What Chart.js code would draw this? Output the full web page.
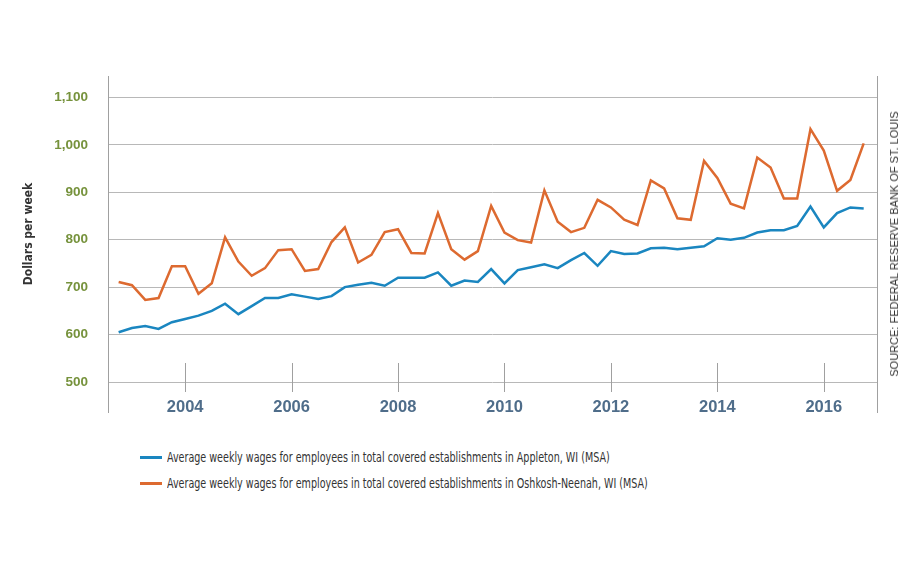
<!DOCTYPE html>
<html>
<head>
<meta charset="utf-8">
<script src="https://cdn.jsdelivr.net/npm/chart.js@4.4.1/dist/chart.umd.min.js"></script>
<style>
  body { margin: 0; background: #fff; }
  #wrap { position: relative; width: 922px; height: 576px; overflow: hidden; }
  #myCanvasWages { position: absolute; left: 0; top: 0; }
  .legenda { position: absolute; left: 140px; top: 0; font-family: "DejaVu Sans Condensed", "Liberation Sans Narrow", sans-serif; font-size: 14px; color: #333; }
  .legenda .item { position: absolute; left: 0; white-space: nowrap; height: 18px; line-height: 18px; }
  .legenda .amostra { display: inline-block; width: 22px; height: 3px; vertical-align: middle; margin-right: 5px; position: relative; top: -1px; }
  .legenda .texto { display: inline-block; transform: scaleX(0.76); transform-origin: 0 50%; }
  #fonte { position: absolute; left: 894px; top: 244px; transform: translate(-50%, -50%) rotate(-90deg); white-space: nowrap;
           font-family: "Liberation Sans", Arial, sans-serif; font-size: 11px; letter-spacing: 0px; color: #333; }
</style>
</head>
<body>
<div id="wrap">
  <canvas id="myCanvasWages" width="922" height="440"></canvas>
  <div class="legenda">
    <div class="item" style="top:448px"><span class="amostra" style="background:#1a86c0"></span><span class="texto">Average weekly wages for employees in total covered establishments in Appleton, WI (MSA)</span></div>
    <div class="item" style="top:474px"><span class="amostra" style="background:#dd6a30"></span><span class="texto">Average weekly wages for employees in total covered establishments in Oshkosh-Neenah, WI (MSA)</span></div>
  </div>
  <div id="fonte">SOURCE: FEDERAL RESERVE BANK OF ST. LOUIS</div>
</div>
<script>
// quarters 2002Q4 .. 2016Q4
var trimestres = [
  '2002Q4',
  '2003Q1','2003Q2','2003Q3','2003Q4',
  '2004Q1','2004Q2','2004Q3','2004Q4',
  '2005Q1','2005Q2','2005Q3','2005Q4',
  '2006Q1','2006Q2','2006Q3','2006Q4',
  '2007Q1','2007Q2','2007Q3','2007Q4',
  '2008Q1','2008Q2','2008Q3','2008Q4',
  '2009Q1','2009Q2','2009Q3','2009Q4',
  '2010Q1','2010Q2','2010Q3','2010Q4',
  '2011Q1','2011Q2','2011Q3','2011Q4',
  '2012Q1','2012Q2','2012Q3','2012Q4',
  '2013Q1','2013Q2','2013Q3','2013Q4',
  '2014Q1','2014Q2','2014Q3','2014Q4',
  '2015Q1','2015Q2','2015Q3','2015Q4',
  '2016Q1','2016Q2','2016Q3','2016Q4'
];

var appleton = [
  605,
  614, 618, 612, 626,
  633, 640, 650, 665,
  643, 660, 677, 677,
  685, 680, 675, 681,
  700, 705, 709, 703,
  720, 720, 720, 731,
  703, 714, 711, 738,
  708, 736, 742, 748,
  740, 757, 772, 745,
  776, 770, 771, 782,
  783, 780, 783, 786,
  803, 800, 804, 815,
  820, 820, 829, 870,
  826, 856, 868, 866
];

var oshkosh = [
  711,
  704, 673, 677, 744,
  744, 686, 708, 805,
  754, 724, 740, 778,
  780, 734, 738, 795,
  826, 752, 768, 816,
  822, 772, 771, 856,
  780, 758, 776, 871,
  815, 799, 794, 904,
  838, 816, 825, 884,
  868, 842, 831, 925,
  908, 845, 842, 966,
  930, 876, 866, 973,
  952, 887, 887, 1033,
  988, 903, 926, 1003
];

var anosEixo = [2004, 2006, 2008, 2010, 2012, 2014, 2016];
var valoresEixo = [500, 600, 700, 800, 900, 1000, 1100];

var corAzul = '#1a86c0';
var corLaranja = '#dd6a30';
var fonteEstreita = '"DejaVu Sans Condensed", "Liberation Sans Narrow", sans-serif';

var paraPontos = function(valores) {
  var pontos = [];
  for (var i = 0; i < trimestres.length; i++) {
    var ano = parseInt(trimestres[i].substring(0, 4), 10);
    var q = parseInt(trimestres[i].substring(5), 10);
    pontos.push({ x: ano + (q - 1) / 4, y: valores[i] });
  }
  return pontos;
};

// frame lines left/right and the short year marks
var molduraPlugin = {
  id: 'moldura',
  beforeDatasetsDraw: function(chart) {
    var ctx = chart.ctx, area = chart.chartArea, xs = chart.scales.x;
    ctx.save();
    ctx.strokeStyle = '#a0a0a0';
    ctx.lineWidth = 1;
    ctx.beginPath();
    [area.left, area.right].forEach(function(px) {
      px = Math.round(px) + 0.5;
      ctx.moveTo(px, area.top);
      ctx.lineTo(px, area.bottom + 21);
    });
    xs.ticks.forEach(function(t) {
      var px = Math.round(xs.getPixelForValue(t.value)) + 0.5;
      ctx.moveTo(px, area.bottom - 29);
      ctx.lineTo(px, area.bottom);
    });
    ctx.stroke();
    ctx.restore();
  }
};

var context = document.getElementById('myCanvasWages');

var grafico = new Chart(context, {
  type: 'line',
  data: {
    datasets: [{
      label: 'Appleton, WI (MSA)',
      data: paraPontos(appleton),
      borderColor: corAzul,
      borderWidth: 2.5,
      pointRadius: 0,
      tension: 0
    }, {
      label: 'Oshkosh-Neenah, WI (MSA)',
      data: paraPontos(oshkosh),
      borderColor: corLaranja,
      borderWidth: 2.5,
      pointRadius: 0,
      tension: 0
    }]
  },
  options: {
    responsive: false,
    animation: false,
    layout: { padding: { left: 0, right: 45, top: 76, bottom: 18 } },
    plugins: {
      legend: { display: false },
      tooltip: { enabled: false }
    },
    scales: {
      x: {
        type: 'linear',
        min: 2002.55,
        max: 2017.0,
        afterBuildTicks: function(scale) {
          scale.ticks = anosEixo.map(function(v) { return { value: v }; });
        },
        afterFit: function(scale) { scale.height = 30; },
        grid: { display: false, drawTicks: false },
        border: { display: false },
        ticks: {
          padding: 6,
          color: '#4f6d8a',
          font: { family: '"Liberation Sans", Arial, sans-serif', size: 16.5, weight: 'bold' },
          maxRotation: 0,
          callback: function(v) { return String(v); }
        }
      },
      y: {
        min: 479,
        max: 1145,
        afterBuildTicks: function(scale) {
          scale.ticks = valoresEixo.map(function(v) { return { value: v }; });
        },
        afterFit: function(scale) { scale.width = 108; },
        grid: { color: '#b8b8b8', lineWidth: 1, drawTicks: false },
        border: { display: false },
        ticks: {
          padding: 20,
          color: '#76923c',
          font: { family: '"Liberation Sans", Arial, sans-serif', size: 13.5, weight: 'bold' },
          callback: function(v) { return v.toLocaleString('en-US'); }
        },
        title: {
          display: true,
          text: 'Dollars per week',
          color: '#333',
          padding: { top: 22, bottom: 0 },
          font: { family: fonteEstreita, size: 12, weight: 'bold' }
        }
      }
    }
  },
  plugins: [molduraPlugin]
});
</script>
</body>
</html>
